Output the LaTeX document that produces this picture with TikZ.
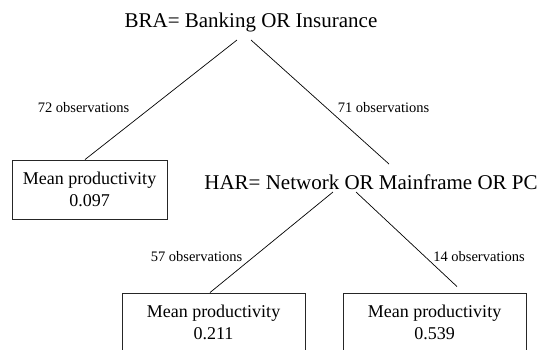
\documentclass[tikz,border=0pt]{standalone}
\usepackage{fontspec}
\setmainfont{Liberation Serif}
\usetikzlibrary{calc}
\begin{document}
\begin{tikzpicture}[x=1pt,y=-1pt,
  split/.style={inner sep=0pt, anchor=base, font=\fontsize{21}{25}\selectfont},
  obs/.style={inner sep=0pt, anchor=base, font=\fontsize{14.5}{17}\selectfont},
  leaf/.style={draw=black!85, line width=0.9pt, inner sep=0pt, align=center,
    minimum height=59pt, font=\fontsize{18}{22}\selectfont},
  edge/.style={draw=black, line width=0.7pt}]
\useasboundingbox (0,0) rectangle (544,349);
\clip (0,0) rectangle (544,349);
% split nodes
\node[split] (root) at (251,27) {BRA= Banking OR Insurance};
\node[split] (har) at (371,189) {HAR= Network OR Mainframe OR PC};
% leaves
\node[leaf, minimum width=155pt] (leafA) at (89.5,189.5) {Mean productivity\\0.097};
\node[leaf, minimum width=183pt] (leafB) at (213.5,322.5) {Mean productivity\\0.211};
\node[leaf, minimum width=183pt] (leafC) at (434.5,322.5) {Mean productivity\\0.539};
% edge labels
\node[obs] (oA) at (83.5,112) {72 observations};
\node[obs] (oH) at (383.5,112) {71 observations};
\node[obs] (oB) at (196.5,261) {57 observations};
\node[obs] (oC) at (479,261) {14 observations};
% connectors
\coordinate (rootL) at ($(root.base)+(-14,13)$);
\coordinate (rootR) at ($(root.base)+(0,13)$);
\coordinate (harTop) at ($(har.north)+(18,-10)$);
\coordinate (harL) at ($(har.base)+(-38,3)$);
\coordinate (harR) at ($(har.base)+(-15,3)$);
\coordinate (leafCtop) at ($(leafC.north)+(22.5,-6)$);
\draw[edge] (rootL) -- ($(leafA.north)+(-4.5,0)$);
\draw[edge] (rootR) -- (harTop);
\draw[edge] (harL) -- ($(leafB.north)+(-3.5,0)$);
\draw[edge] (harR) -- (leafCtop);
\end{tikzpicture}
\end{document}
